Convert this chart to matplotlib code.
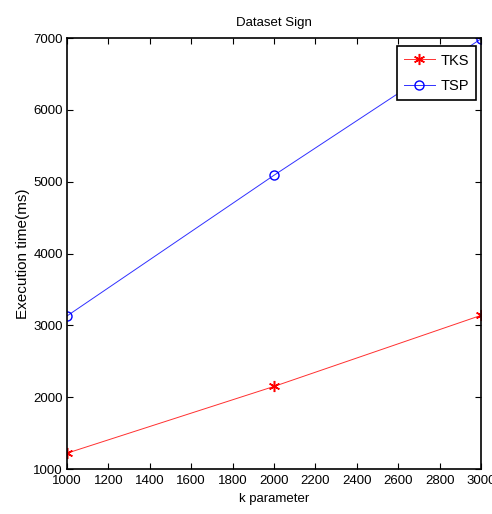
import matplotlib
matplotlib.use("Agg")
import matplotlib.pyplot as plt

k = [1000, 2000, 3000]
tks = [1220, 2150, 3140]
tsp = [3130, 5090, 6990]
xticks = list(range(1000, 3001, 200))
yticks = list(range(1000, 7001, 1000))

plt.rcParams['font.family'] = ['Liberation Sans', 'DejaVu Sans']
fig = plt.figure(figsize=(4.92, 5.14), dpi=100)
ax = fig.add_axes([0.136, 0.0875, 0.842, 0.8385])
ax.plot(k, tks, color='#ff3030', lw=0.7, marker=(6, 2, 0), markersize=8,
        markeredgewidth=1.1, markeredgecolor='red', label='TKS')
ax.plot(k, tsp, color='#3030ff', lw=0.7, marker='o', markersize=6.5,
        markerfacecolor='none', markeredgecolor='blue', markeredgewidth=1.0, label='TSP')
ax.set_xlim(1000, 3000)
ax.set_ylim(1000, 7000)
ax.set_xticks(xticks)
ax.set_yticks(yticks)
ax.tick_params(direction='in', top=True, right=True, length=4, width=0.8, labelsize=9.5)
ax.tick_params(axis='x', pad=4.5)
ax.tick_params(axis='y', pad=3)
for s in ax.spines.values():
    s.set_linewidth(1.2)
ax.set_title('Dataset Sign', fontsize=9.5, pad=9)
ax.set_xlabel('k parameter', fontsize=9.5, labelpad=4)
ax.set_ylabel('Execution time(ms)', fontsize=11, labelpad=2)
leg = ax.legend(loc='upper right', bbox_to_anchor=(0.988, 0.981), borderaxespad=0,
                fontsize=10.5, fancybox=False, framealpha=1, edgecolor='black',
                handlelength=2.1, handletextpad=0.4, labelspacing=0.8, borderpad=0.5)
leg.get_frame().set_linewidth(1.2)
fig.savefig('out.png', dpi=100)
